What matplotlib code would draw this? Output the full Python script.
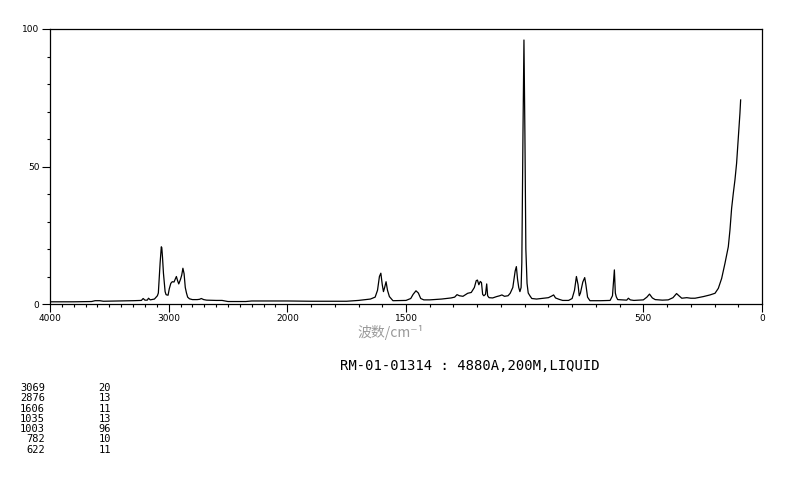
import numpy as np
import matplotlib
matplotlib.use("Agg")
import matplotlib.pyplot as plt
from matplotlib.ticker import FixedLocator, FixedFormatter

# ---------------- data ----------------
wavenumber = [
    4000, 3800, 3650, 3620, 3580, 3550, 3400, 3300, 3230, 3215, 3200, 3180, 3170,
    3155, 3120, 3095, 3087, 3072, 3062, 3058, 3052, 3044, 3030, 3022, 3016, 3005,
    2995, 2982, 2970, 2955, 2945, 2935, 2925, 2915, 2900, 2890, 2880, 2870, 2860,
    2850, 2840, 2825, 2800, 2760, 2740, 2725, 2705, 2680, 2600, 2550, 2500, 2350,
    2300, 2000,
    1900, 1750, 1700, 1680, 1650, 1630, 1620, 1612, 1606, 1600, 1595, 1590, 1584,
    1578, 1570, 1555, 1500, 1480, 1470, 1458, 1448, 1438, 1425, 1400, 1350, 1310,
    1295, 1285, 1275, 1260, 1240, 1225, 1212, 1204, 1199, 1193, 1187, 1182, 1177,
    1172, 1165, 1160, 1156, 1150, 1135, 1118, 1105, 1096, 1085, 1070, 1061, 1050,
    1040, 1035, 1030, 1025, 1020, 1015, 1012, 1007, 1003, 999, 995, 990, 985, 978,
    970, 950, 930, 900, 886, 878, 870, 855, 840, 815, 800, 790, 782, 775, 770, 765,
    755, 747, 742, 735, 725, 680, 640, 630, 622, 618, 614, 608, 590, 570, 563, 555,
    540, 500, 485, 474, 462, 450, 420, 395, 375, 360, 350, 338, 317, 300, 282, 247,
    219, 198, 184, 170, 156, 142, 135, 128, 121, 114, 107, 100, 93, 90,
]
intensity = [
    0.8, 0.8, 0.9, 1.2, 1.2, 1.0, 1.1, 1.2, 1.3, 2.0, 1.4, 1.4, 2.1,
    1.5, 1.8, 3.0, 4.0, 15.0, 20.8, 20.5, 17.0, 11.2, 4.5, 3.4, 3.3, 3.2,
    5.5, 7.5, 8.1, 8.0, 9.0, 10.0, 8.5, 7.3, 9.0, 10.5, 13.0, 11.0, 6.0,
    4.0, 2.5, 1.9, 1.6, 1.6, 1.7, 2.0, 1.6, 1.4, 1.3, 1.3, 0.9, 0.9,
    1.1, 1.1,
    1.0, 1.0, 1.3, 1.5, 1.8, 2.5, 5.0, 10.0, 11.2, 7.0, 4.5, 6.0, 8.1,
    5.0, 2.7, 1.2, 1.3, 2.0, 3.5, 4.8, 4.0, 2.0, 1.5, 1.5, 1.8, 2.2,
    2.5, 3.4, 3.0, 2.8, 3.9, 4.2, 6.0, 8.5, 8.7, 7.0, 8.2, 7.8, 3.5,
    3.0, 3.5, 7.3, 3.0, 2.3, 2.2, 2.7, 3.0, 3.3, 2.8, 3.0, 3.9, 6.0,
    12.0, 13.6, 9.0, 6.0, 4.5, 6.0, 15.0, 63.0, 96.0, 62.0, 20.0, 7.5, 4.0, 3.0,
    2.0, 1.8, 2.0, 2.3, 2.9, 3.3, 2.2, 1.7, 1.3, 1.3, 2.0, 5.0, 10.0, 7.0, 3.0, 4.0,
    8.0, 9.6, 7.0, 2.5, 1.2, 1.2, 1.3, 3.0, 12.4, 4.0, 2.6, 1.6, 1.5, 1.4, 2.1, 1.5,
    1.3, 1.5, 2.5, 3.6, 2.2, 1.6, 1.4, 1.5, 2.3, 3.8, 3.0, 2.1, 2.3, 2.1, 2.1, 2.7,
    3.3, 3.9, 5.7, 9.3, 14.8, 20.8, 26.9, 34.8, 40.2, 45.1, 51.2, 60.3, 69.3, 74.2,
]

peak_wavenumbers = ["3069", "2876", "1606", "1035", "1003", "782", "622"]
peak_intensities = ["20", "13", "11", "13", "96", "10", "11"]

x_major_ticks = [4000, 3000, 2000, 1500, 500, 0]
x_major_labels = ["4000", "3000", "2000", "1500", "500", "0"]
y_major_ticks = [0, 50, 100]
y_major_labels = ["0", "50", "100"]

title_text = "RM-01-01314 : 4880A,200M,LIQUID"
xlabel_text = "波数/cm⁻¹"

# ---------------- scale: 2000-4000 compressed by factor 2 ----------------
def fwd(w):
    w = np.asarray(w, dtype=float)
    return np.where(w > 2000, 2000 + (w - 2000) / 2.0, w)

def inv(u):
    u = np.asarray(u, dtype=float)
    return np.where(u > 2000, 2000 + (u - 2000) * 2.0, u)

W, H = 794, 482
fig = plt.figure(figsize=(W / 100, H / 100), dpi=100)
ax = fig.add_axes([50 / W, 1 - 304 / H, (762 - 50) / W, (304 - 29) / H])
ax.set_xscale("function", functions=(fwd, inv))
ax.plot(wavenumber, intensity, color="black", linewidth=0.9)
ax.set_xlim(4000, 0)
ax.set_ylim(0, 100)

ax.xaxis.set_major_locator(FixedLocator(x_major_ticks))
ax.xaxis.set_major_formatter(FixedFormatter(x_major_labels))
minor_x = [v for v in range(100, 4000, 100) if v not in x_major_ticks]
ax.xaxis.set_minor_locator(FixedLocator(minor_x))
ax.yaxis.set_major_locator(FixedLocator(y_major_ticks))
ax.yaxis.set_major_formatter(FixedFormatter(y_major_labels))
ax.yaxis.set_minor_locator(FixedLocator([v for v in range(10, 100, 10) if v != 50]))

ax.tick_params(which="major", direction="out", length=5.5, width=0.8,
               labelsize=6.5, pad=2)
ax.tick_params(which="minor", direction="out", length=2.2, width=0.8)
for s in ax.spines.values():
    s.set_linewidth(0.9)

fig.text(391 / W, 1 - 333 / H, xlabel_text, ha="center", va="center",
         color="#9a9a9a", fontsize=10, family=["Noto Sans CJK SC", "DejaVu Sans"])
fig.text(340 / W, 1 - 366 / H, title_text, ha="left", va="center",
         family="DejaVu Sans Mono", fontsize=10)

for i, (pw, pi) in enumerate(zip(peak_wavenumbers, peak_intensities)):
    y = 1 - (388 + 10.3 * i) / H
    fig.text(45 / W, y, pw, ha="right", va="center",
             family="DejaVu Sans Mono", fontsize=7.5)
    fig.text(111 / W, y, pi, ha="right", va="center",
             family="DejaVu Sans Mono", fontsize=7.5)

fig.savefig("out.png", dpi=100)
